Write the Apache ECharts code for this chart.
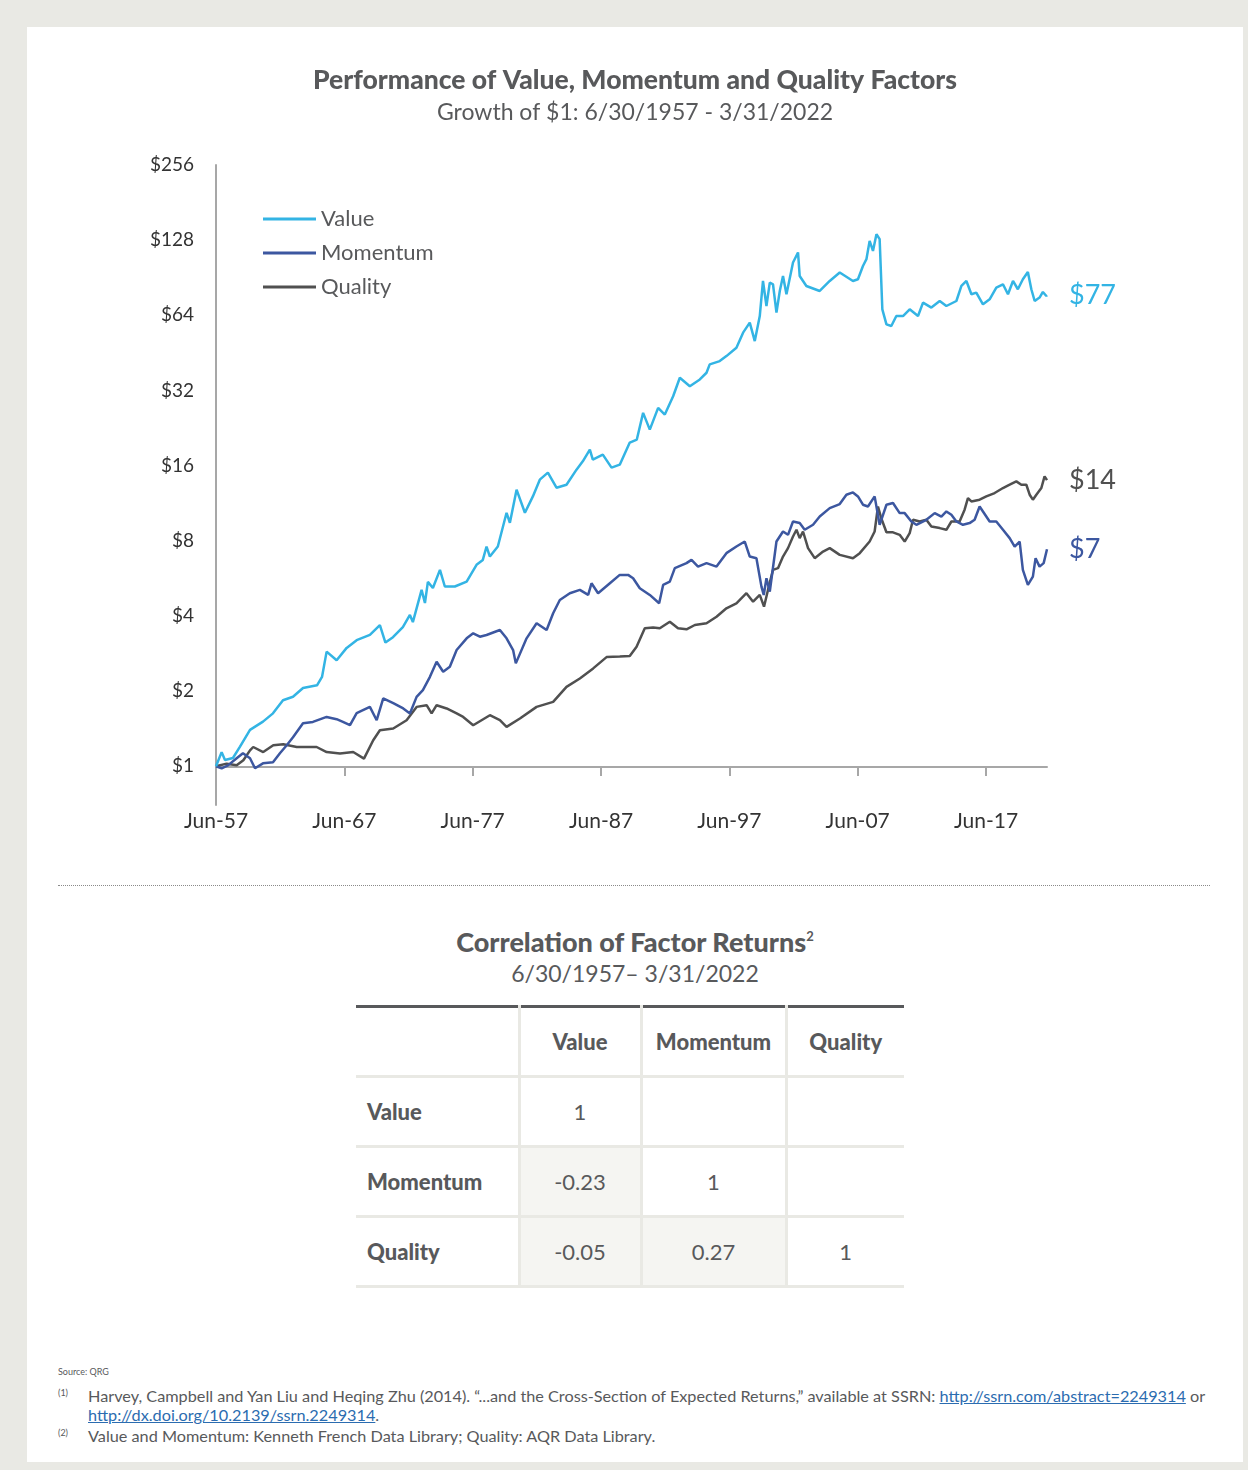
<!DOCTYPE html>
<html>
<head>
<meta charset="utf-8">
<script src="https://cdn.jsdelivr.net/npm/echarts@6/dist/echarts.min.js"></script>
<style>
  html, body { margin: 0; padding: 0; }
  body {
    width: 1248px; height: 1470px; position: relative; overflow: hidden;
    background: #e9e9e4; font-family: Lato, "Open Sans", sans-serif; color: #58595b;
  }
  #panel { position: absolute; left: 27px; top: 27px; width: 1216px; height: 1435px; background: #fff; }
  #chart { position: absolute; left: 27px; top: 27px; width: 1216px; height: 850px; }
  #rule { position: absolute; left: 58px; top: 885px; width: 1152px; border-top: 1px dotted #8a8a8a; }
  .ttl { position: absolute; left: 27px; width: 1216px; text-align: center; font-size: 23px; }
  #corrTitle { top: 925px; font-weight: 900; font-size: 27px; }
  #corrTitle sup { font-size: 13px; vertical-align: 11px; font-weight: 700; }
  #corrSub { top: 959px; }
  #corrTable {
    position: absolute; left: 356px; top: 1005px; width: 548px;
    border-collapse: collapse; table-layout: fixed; font-size: 22px; color: #58595b;
    border-top: 3px solid #58595b;
  }
  #corrTable td { height: 67px; padding: 0; text-align: center; border-bottom: 3px solid #e9e9e4; border-left: 3px solid #e9e9e4; }
  #corrTable td.rowhead { border-left: none; text-align: left; padding-left: 11px; font-weight: 900; }
  #corrTable tr.headrow td { font-weight: 900; }
  #corrTable td.shade { background: #f5f5f2; }
  #notes { position: absolute; left: 58px; top: 1366px; width: 1170px; font-size: 16.25px; color: #58595b; }
  #notes .src { font-size: 9px; margin-bottom: 9px; }
  #notes .fn { position: relative; padding-left: 30px; line-height: 19px; margin-bottom: 2px; white-space: nowrap; }
  #notes .fn .mk { position: absolute; left: 0; top: -3px; font-size: 9px; }
  #notes a { color: #2b6cb0; text-decoration: underline; }
</style>
</head>
<body>
<div id="panel"></div>
<div id="chart"></div>
<div id="rule"></div>
<div id="corrTitle" class="ttl">Correlation of Factor Returns<sup>2</sup></div>
<div id="corrSub" class="ttl">6/30/1957– 3/31/2022</div>
<table id="corrTable"></table>
<div id="notes">
  <div class="src">Source: QRG</div>
  <div class="fn"><span class="mk">(1)</span>Harvey, Campbell and Yan Liu and Heqing Zhu (2014). “...and the Cross-Section of Expected Returns,” available at SSRN: <a>http://ssrn.com/abstract=2249314</a> or<br><a>http://dx.doi.org/10.2139/ssrn.2249314</a>.</div>
  <div class="fn"><span class="mk">(2)</span>Value and Momentum: Kenneth French Data Library; Quality: AQR Data Library.</div>
</div>
<script>
// Growth of $1, [year, dollars]
const valueData = [[1957.5,1.00],[1957.94,1.14],[1958.20,1.06],[1958.82,1.08],[1959.37,1.20],[1960.15,1.40],[1961.16,1.51],[1961.94,1.63],[1962.72,1.84],[1963.50,1.90],[1964.28,2.06],[1965.37,2.11],[1965.76,2.28],[1966.12,2.88],[1966.90,2.66],[1967.68,2.98],[1968.46,3.20],[1969.49,3.36],[1970.27,3.68],[1970.70,3.13],[1971.29,3.29],[1972.06,3.61],[1972.61,4.04],[1972.84,3.78],[1973.52,5.09],[1973.78,4.51],[1974.01,5.48],[1974.40,5.18],[1974.95,6.12],[1975.33,5.25],[1976.11,5.25],[1977.03,5.49],[1977.80,6.41],[1978.29,6.71],[1978.58,7.59],[1978.84,6.92],[1979.46,7.59],[1980.14,10.36],[1980.40,9.45],[1980.92,12.82],[1981.57,10.36],[1982.19,12.05],[1982.73,14.06],[1983.36,15.00],[1984.03,13.06],[1984.81,13.42],[1985.59,15.42],[1986.08,16.65],[1986.63,18.55],[1986.86,16.91],[1987.64,17.71],[1988.32,15.71],[1988.96,16.15],[1989.74,19.79],[1990.29,20.35],[1990.78,26.04],[1991.30,22.31],[1991.95,27.27],[1992.47,25.63],[1993.12,30.36],[1993.64,35.99],[1994.42,33.30],[1995.20,35.42],[1995.72,37.69],[1995.97,40.70],[1996.75,41.96],[1997.27,43.94],[1998.05,47.49],[1998.57,54.55],[1999.09,59.83],[1999.48,50.47],[1999.87,63.59],[2000.12,87.87],[2000.39,69.75],[2000.65,86.58],[2000.90,85.23],[2001.17,65.61],[2001.43,80.12],[2001.68,92.03],[2001.95,77.71],[2002.46,104.2],[2002.85,114.3],[2002.98,92.03],[2003.50,83.91],[2004.54,80.12],[2005.32,87.87],[2006.10,94.97],[2007.13,87.87],[2007.52,89.26],[2007.91,100.9],[2008.18,107.4],[2008.43,127.2],[2008.69,115.9],[2008.96,135.3],[2009.21,129.2],[2009.42,67.65],[2009.74,58.89],[2010.12,57.98],[2010.51,63.59],[2011.03,63.59],[2011.55,67.65],[2012.20,63.59],[2012.59,71.97],[2013.24,68.73],[2013.89,73.04],[2014.41,69.75],[2015.19,73.04],[2015.58,83.91],[2015.97,87.87],[2016.36,77.71],[2016.74,78.94],[2017.26,70.85],[2017.78,74.20],[2018.30,82.68],[2018.82,85.23],[2019.21,77.71],[2019.60,87.87],[2019.98,81.40],[2020.37,89.26],[2020.76,95.49],[2021.03,81.40],[2021.29,73.04],[2021.67,75.37],[2021.93,79.38],[2022.20,76.49],[2022.25,77]];

const momentumData = [[1957.5,1.00],[1957.94,0.982],[1958.43,1.009],[1959.11,1.077],[1959.60,1.128],[1960.15,1.077],[1960.54,0.982],[1961.16,1.028],[1961.94,1.038],[1962.48,1.128],[1963.01,1.214],[1963.50,1.307],[1964.28,1.488],[1965.05,1.506],[1966.12,1.577],[1966.90,1.544],[1967.39,1.506],[1967.94,1.461],[1968.46,1.632],[1968.95,1.678],[1969.49,1.730],[1970.02,1.530],[1970.53,1.870],[1971.31,1.790],[1972.09,1.705],[1972.61,1.628],[1973.13,1.897],[1973.62,2.019],[1974.17,2.283],[1974.69,2.622],[1975.20,2.391],[1975.72,2.504],[1976.25,2.922],[1977.03,3.255],[1977.54,3.409],[1978.06,3.304],[1978.58,3.356],[1979.62,3.514],[1980.14,3.255],[1980.65,2.922],[1980.86,2.584],[1981.70,3.255],[1982.48,3.740],[1983.26,3.514],[1983.77,4.101],[1984.29,4.638],[1985.07,4.934],[1985.85,5.087],[1986.50,4.857],[1986.76,5.411],[1987.27,4.934],[1988.19,5.411],[1988.96,5.843],[1989.61,5.843],[1990.00,5.668],[1990.52,5.167],[1991.30,4.857],[1992.03,4.498],[1992.34,5.327],[1992.86,5.492],[1993.25,6.216],[1994.16,6.511],[1994.55,6.712],[1995.06,6.308],[1995.72,6.511],[1996.50,6.308],[1997.27,7.140],[1998.05,7.589],[1998.70,7.948],[1999.09,6.920],[1999.61,6.818],[2000.00,5.245],[2000.18,4.857],[2000.39,5.668],[2000.65,5.007],[2001.17,7.948],[2001.68,8.719],[2002.07,8.456],[2002.46,9.562],[2002.98,9.422],[2003.37,8.857],[2004.02,9.276],[2004.54,10.01],[2005.32,10.82],[2006.10,11.23],[2006.62,12.24],[2007.13,12.50],[2007.52,12.05],[2007.91,11.16],[2008.30,10.98],[2008.82,12.05],[2009.21,9.276],[2009.74,11.16],[2010.25,11.34],[2010.77,10.33],[2011.16,10.33],[2011.68,9.562],[2012.07,9.276],[2012.85,9.713],[2013.50,10.33],[2014.02,10.01],[2014.41,10.49],[2014.80,10.17],[2015.19,9.562],[2015.70,9.276],[2016.22,9.422],[2016.61,9.713],[2017.00,10.98],[2017.26,10.49],[2017.78,9.562],[2018.30,9.562],[2018.82,8.857],[2019.34,8.202],[2019.73,7.589],[2020.12,7.948],[2020.37,6.120],[2020.76,5.327],[2021.15,5.752],[2021.36,6.818],[2021.67,6.308],[2021.99,6.511],[2022.25,7.4]];

const qualityData = [[1957.5,1.00],[1958.33,1.025],[1959.11,1.009],[1959.63,1.057],[1960.15,1.159],[1960.40,1.195],[1961.18,1.141],[1961.96,1.214],[1962.74,1.225],[1963.79,1.195],[1965.34,1.195],[1966.12,1.141],[1967.16,1.125],[1968.19,1.141],[1969.03,1.074],[1969.75,1.272],[1970.27,1.395],[1971.31,1.417],[1972.35,1.530],[1973.13,1.730],[1973.91,1.757],[1974.30,1.628],[1974.69,1.757],[1975.47,1.705],[1976.25,1.628],[1976.76,1.577],[1977.54,1.461],[1978.84,1.602],[1979.62,1.530],[1980.14,1.438],[1981.18,1.554],[1982.48,1.730],[1983.77,1.812],[1984.81,2.081],[1985.85,2.249],[1986.89,2.467],[1987.93,2.738],[1988.96,2.751],[1989.74,2.764],[1990.27,3.012],[1990.91,3.570],[1991.56,3.597],[1992.08,3.570],[1992.86,3.795],[1993.50,3.570],[1994.16,3.538],[1994.81,3.681],[1995.72,3.740],[1996.50,3.974],[1997.27,4.295],[1998.05,4.498],[1998.83,4.934],[1999.35,4.565],[1999.87,4.857],[2000.20,4.359],[2000.51,5.087],[2000.90,6.120],[2001.29,6.216],[2001.68,6.920],[2002.07,7.479],[2002.46,8.324],[2002.73,8.857],[2002.98,8.202],[2003.24,8.719],[2003.63,7.479],[2004.15,6.818],[2004.80,7.247],[2005.32,7.479],[2006.10,7.029],[2007.13,6.818],[2007.66,7.140],[2008.43,7.948],[2008.82,8.719],[2009.08,10.98],[2009.35,9.803],[2009.74,8.654],[2010.25,8.654],[2010.77,8.456],[2011.16,7.948],[2011.55,8.590],[2011.81,9.713],[2012.33,9.562],[2012.85,9.713],[2013.24,9.130],[2013.89,8.996],[2014.41,8.857],[2014.80,9.562],[2015.44,9.562],[2015.83,10.66],[2016.09,11.87],[2016.36,11.50],[2017.00,11.69],[2017.52,12.05],[2018.17,12.43],[2018.82,13.02],[2019.34,13.42],[2019.86,13.84],[2020.25,13.42],[2020.64,13.42],[2020.90,12.24],[2021.15,11.69],[2021.42,12.24],[2021.81,13.02],[2022.06,14.49],[2022.25,14]];

const seriesNames = ['Value', 'Momentum', 'Quality'];
const seriesColors = ['#33b4e4', '#3c57a0', '#505050'];

// x axis: mid-year (June) marks every ten years
const xLabelYears = [1957.5, 1967.5, 1977.5, 1987.5, 1997.5, 2007.5, 2017.5];
const xTickYears = [1967.5, 1977.5, 1987.5, 1997.5, 2007.5, 2017.5];

// correlation matrix (lower triangle)
const corrLabels = ['Value', 'Momentum', 'Quality'];
const corrValues = [[1, null, null], [-0.23, 1, null], [-0.05, 0.27, 1]];

const chart = echarts.init(document.getElementById('chart'), null, { renderer: 'canvas' });

const seriesData = [valueData, momentumData, qualityData];
const series = seriesNames.map((name, i) => ({
  name,
  type: 'line',
  data: seriesData[i],
  showSymbol: false,
  symbol: 'none',
  lineStyle: { color: seriesColors[i], width: 2.5 },
  itemStyle: { color: seriesColors[i] },
  endLabel: {
    show: true,
    formatter: p => '$' + Math.round(p.value[1]),
    color: seriesColors[i],
    fontSize: 27,
    fontFamily: 'Lato',
    distance: 22
  },
  z: 3 - i
}));

chart.setOption({
  animation: false,
  backgroundColor: 'transparent',
  textStyle: { fontFamily: 'Lato' },
  title: [
    { text: 'Performance of Value, Momentum and Quality Factors', left: 'center', top: 35,
      textStyle: { fontSize: 26.5, fontWeight: 900, color: '#58595b', fontFamily: 'Lato' } },
    { text: 'Growth of $1: 6/30/1957 - 3/31/2022', left: 'center', top: 69,
      textStyle: { fontSize: 23, fontWeight: 'normal', color: '#58595b', fontFamily: 'Lato' } }
  ],
  legend: {
    data: seriesNames,
    orient: 'vertical',
    left: 231, top: 175,
    icon: 'rect',
    itemWidth: 53, itemHeight: 3,
    itemGap: 10,
    textStyle: { fontSize: 22, color: '#58595b', lineHeight: 24, fontFamily: 'Lato' }
  },
  grid: { left: 189, right: 196, top: 138, bottom: 72, containLabel: false },
  xAxis: {
    type: 'value',
    min: 1957.5, max: 2022.25,
    offset: -38,
    splitLine: { show: false },
    axisLine: { onZero: false, lineStyle: { color: '#a7a7a7', width: 2 } },
    axisTick: { show: true, customValues: xTickYears, length: 9, lineStyle: { color: '#a7a7a7', width: 2 } },
    axisLabel: {
      customValues: xLabelYears,
      margin: 44,
      fontSize: 21, color: '#333', fontFamily: 'Lato',
      formatter: v => 'Jun-' + String(Math.floor(v) % 100).padStart(2, '0')
    }
  },
  yAxis: {
    type: 'log',
    logBase: 2,
    min: 0.7, max: 256,
    splitNumber: 8,
    splitLine: { show: false },
    axisTick: { show: false },
    axisLine: { show: true, lineStyle: { color: '#a7a7a7', width: 2 } },
    axisLabel: {
      showMinLabel: false,
      margin: 22,
      fontSize: 19, color: '#333', fontFamily: 'Lato',
      formatter: v => '$' + Math.round(v)
    }
  },
  series
});

// correlation table built from the matrix
const table = document.getElementById('corrTable');
const colWidths = [163, 122, 145, 118];
const cg = document.createElement('colgroup');
colWidths.forEach(w => { const c = document.createElement('col'); c.style.width = w + 'px'; cg.appendChild(c); });
table.appendChild(cg);
const head = document.createElement('tr');
head.className = 'headrow';
['', ...corrLabels].forEach((t, i) => {
  const td = document.createElement('td');
  td.textContent = t;
  if (i === 0) td.className = 'rowhead';
  head.appendChild(td);
});
table.appendChild(head);
corrLabels.forEach((rowName, r) => {
  const tr = document.createElement('tr');
  const th = document.createElement('td');
  th.className = 'rowhead';
  th.textContent = rowName;
  tr.appendChild(th);
  corrValues[r].forEach((v, c) => {
    const td = document.createElement('td');
    if (v !== null) {
      td.textContent = v === 1 ? '1' : v.toFixed(2);
      if (c < r) td.className = 'shade';
    }
    tr.appendChild(td);
  });
  table.appendChild(tr);
});
</script>
</body>
</html>
